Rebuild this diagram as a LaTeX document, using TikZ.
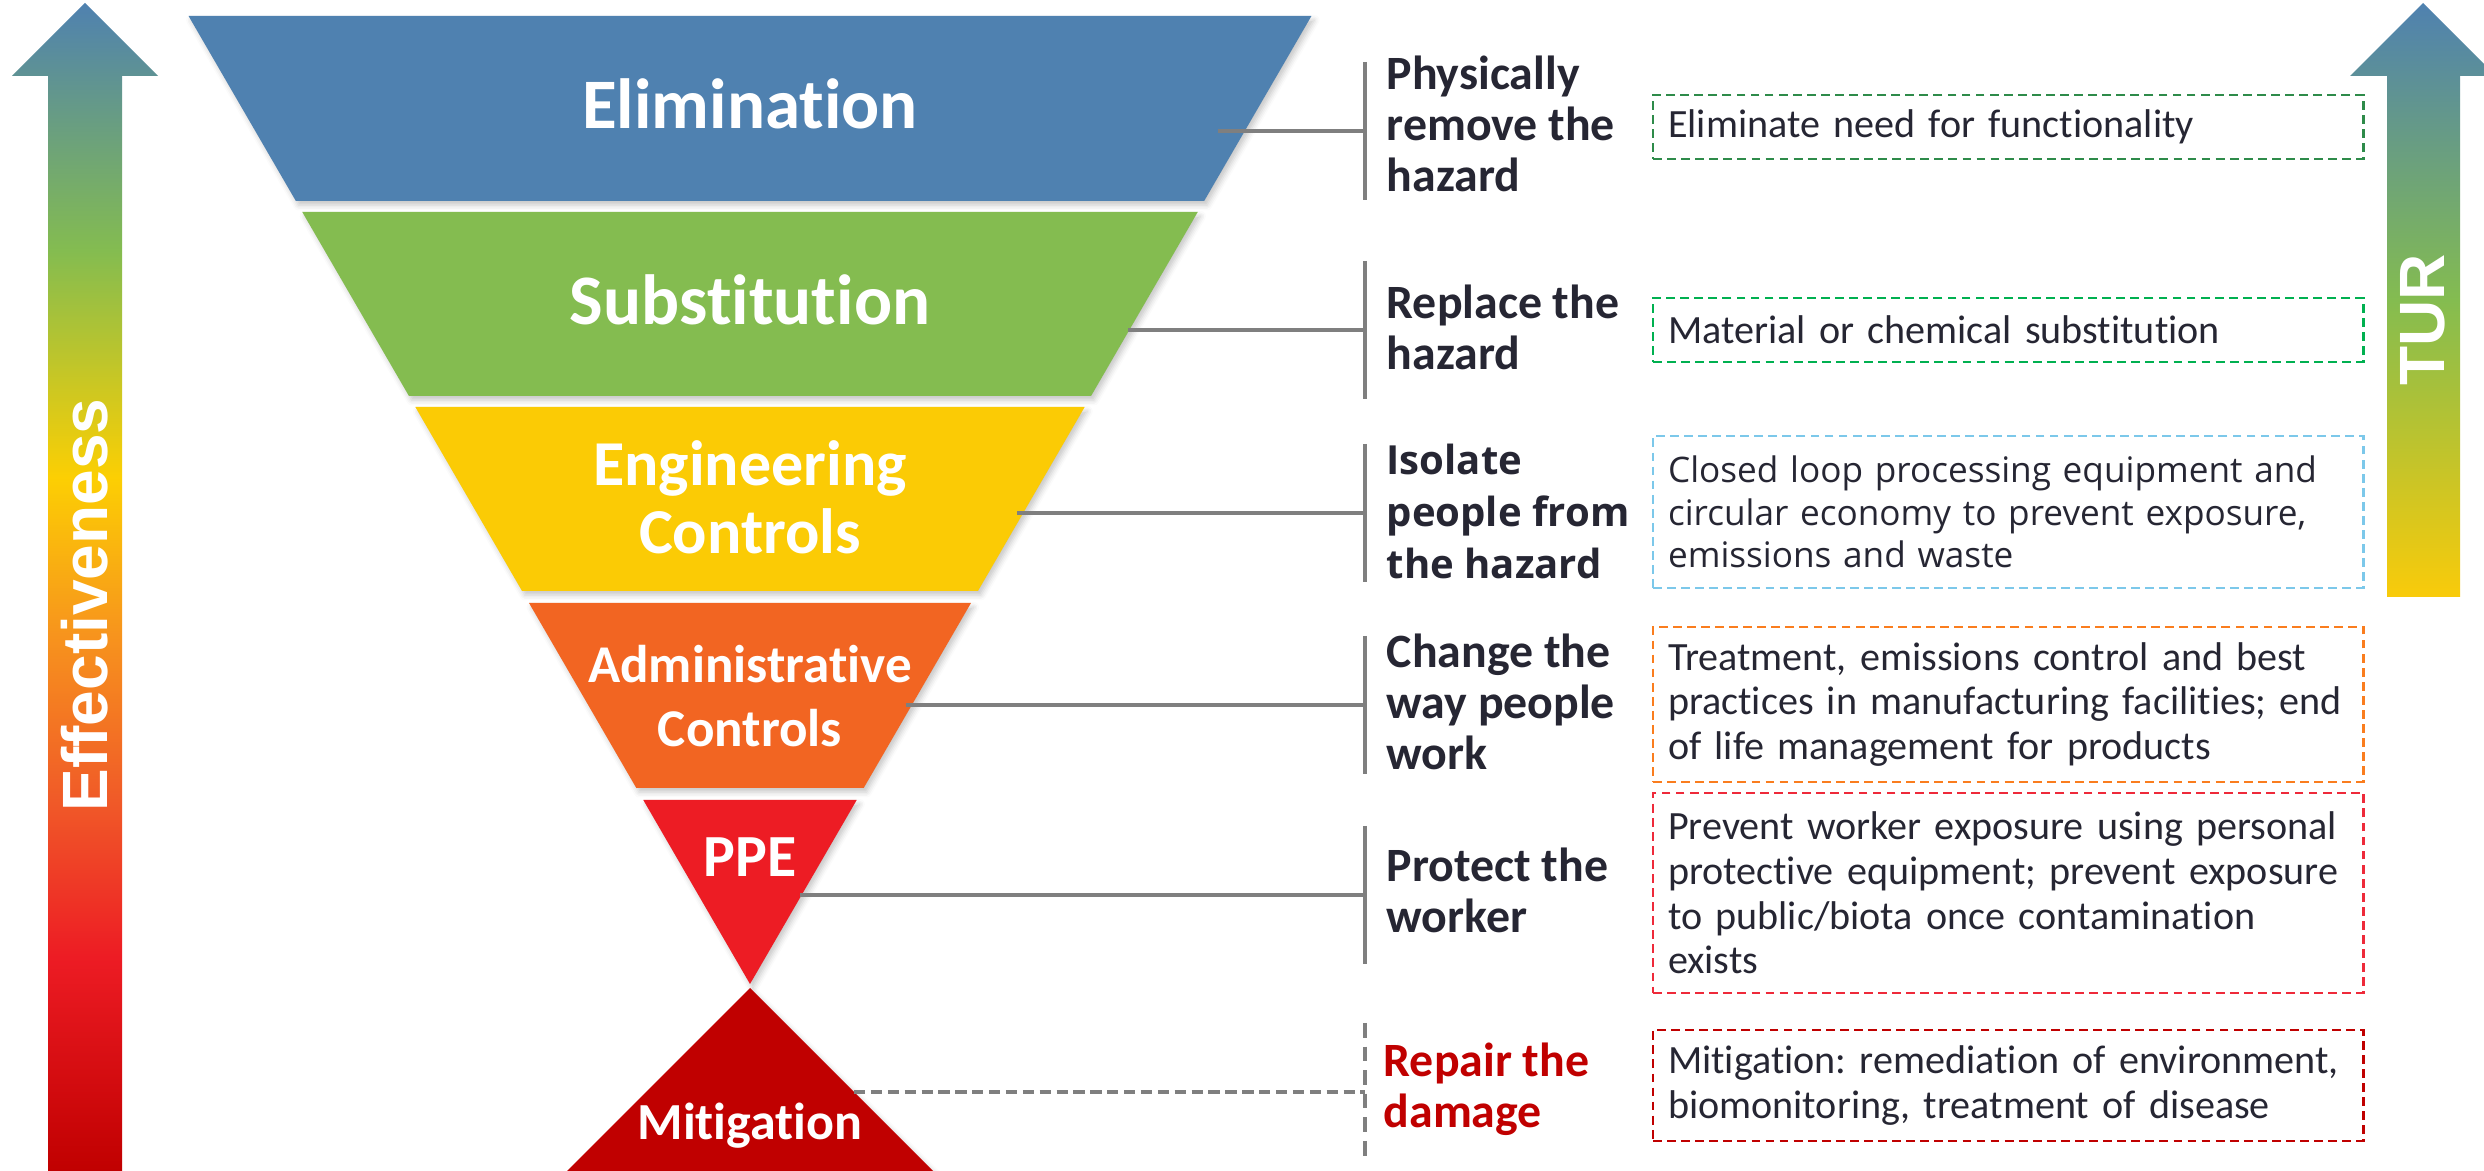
\documentclass[tikz,border=0pt]{standalone}
\usepackage{fontspec}
\setmainfont{Carlito}[Ligatures=NoCommon]
\newfontfamily\headfont{Liberation Sans}[Ligatures=NoCommon]
\newfontfamily\segoefont{Open Sans}[Ligatures=NoCommon]
\usetikzlibrary{shadows.blur}
\frenchspacing

\definecolor{elimblue}{HTML}{4F81B0}
\definecolor{subgreen}{HTML}{84BC50}
\definecolor{enggold}{HTML}{FBCB05}
\definecolor{adminorange}{HTML}{F26522}
\definecolor{ppered}{HTML}{ED1C24}
\definecolor{mitired}{HTML}{C00000}
\definecolor{effred}{HTML}{F05A28}
\definecolor{efforange}{HTML}{F7941D}
\definecolor{effyellow}{HTML}{FCCF03}
\definecolor{turyellow}{HTML}{F9CB0A}
\definecolor{linkgray}{HTML}{7F7F7F}
\definecolor{inkdark}{HTML}{262633}
\definecolor{elimdash}{HTML}{2E8B4A}
\definecolor{substdash}{HTML}{00B050}
\definecolor{engdash}{HTML}{7CC8EA}
\definecolor{admindash}{HTML}{FA7D1E}
\definecolor{ppedash}{HTML}{EE2A3A}

% shadings: the path box spans 25bp..75bp
\pgfdeclareverticalshading{effshade}{100bp}{color(0bp)=(mitired); color(25bp)=(mitired);
  color(34.2bp)=(ppered); color(40.9bp)=(effred); color(48bp)=(efforange);
  color(54.7bp)=(effyellow); color(64.4bp)=(subgreen); color(75bp)=(elimblue); color(100bp)=(elimblue)}
\pgfdeclareverticalshading{turshade}{100bp}{color(0bp)=(turyellow); color(25bp)=(turyellow);
  color(50bp)=(subgreen); color(75bp)=(elimblue); color(100bp)=(elimblue)}

\begin{document}
\begin{tikzpicture}[x=0.01cm, y=-0.01cm,
  band/.style={fill=#1, blur shadow={shadow xshift=0.8pt, shadow yshift=-1.2pt, shadow blur radius=1.5pt, shadow opacity=22}},
  bandlabel/.style={text=white, align=center, inner sep=0pt},
  link/.style={draw=linkgray, line width=1.15pt},
  bracket/.style={draw=linkgray, line width=1.4pt},
  hazardlabel/.style={anchor=north west, align=left, inner sep=0pt, text=inkdark,
    font=\bfseries\fontsize{13.6}{14.5}\selectfont},
  measure/.style={draw=#1, dash pattern=on 2.5pt off 1.5pt, line width=0.6pt, anchor=west,
    text width=6.8cm, inner xsep=0.15cm, inner ysep=0pt, align=left, text=inkdark,
    font=\fontsize{11.4}{12.7}\selectfont}]
  \useasboundingbox (0,0) rectangle (2484,1171);

  % side arrows
  \shade[shading=effshade] (48,1172) -- (48,76) -- (12,76) -- (85,3) -- (158,76) -- (122,76) -- (122,1172) -- cycle;
  \node[rotate=90, text=white, font=\headfont\bfseries\fontsize{18.2}{18.2}\selectfont] (eff) at (85,605) {Effectiveness};
  \shade[shading=turshade] (2387,597) -- (2387,76) -- (2350,76) -- (2423,3) -- (2496,76) -- (2460,76) -- (2460,597) -- cycle;
  \node[rotate=90, text=white, font=\headfont\bfseries\fontsize{18.2}{18.2}\selectfont] (tur) at (2423,320) {TUR};

  % funnel
  \foreach \ytop/\ybot/\col in {16/201/elimblue, 212/396/subgreen, 407/591/enggold, 603/788/adminorange, 800/984/ppered}
    \fill[band=\col] ({750-0.58*(984-\ytop)},\ytop) -- ({750+0.58*(984-\ytop)},\ytop)
      -- ({750+0.58*(984-\ybot)},\ybot) -- ({750-0.58*(984-\ybot)},\ybot) -- cycle;
  \fill[band=mitired] (750,988) -- (934,1172) -- (566,1172) -- cycle;

  \node[bandlabel, font=\bfseries\fontsize{20.2}{20.2}\selectfont] (elim) at (750,104) {Elimination};
  \node[bandlabel, font=\bfseries\fontsize{20.2}{20.2}\selectfont] (subst) at (750,300) {Substitution};
  \node[bandlabel, font=\bfseries\fontsize{18.2}{19.3}\selectfont] (eng) at (750,497) {Engineering\\Controls};
  \node[bandlabel, font=\bfseries\fontsize{15.1}{18.2}\selectfont] (admin) at (750,696) {Administrative\\Controls};
  \node[bandlabel, anchor=base, font=\bfseries\fontsize{17}{17}\selectfont] (ppe) at (750,877) {PPE};
  \node[bandlabel, anchor=base, font=\bfseries\fontsize{14.8}{14.8}\selectfont] (miti) at (750,1140) {Mitigation};

  % connectors
  \foreach \name/\y/\sx in {elim/131/1218, subst/330/1128, eng/513/1017, admin/705/906, ppe/895/800} {
    \coordinate (\name-out) at (\sx,\y);
    \coordinate (\name-bar) at (1365,\y);
    \draw[bracket] (1365,\y-69) -- (1365,\y+69);
    \draw[link] (\name-out) -- (\name-bar);
  }
  \coordinate (miti-out) at (854,1092);
  \coordinate (miti-bar) at (1365,1092);
  \draw[bracket, dash pattern=on 4.2pt off 2.5pt] (1365,1023) -- (1365,1161);
  \draw[link, dash pattern=on 3.2pt off 1.6pt] (miti-out) -- (miti-bar);

  % what each level does
  \node[hazardlabel] (elim-why) at (1386,55) {Physically\\remove the\\hazard};
  \node[hazardlabel] (subst-why) at (1386,284) {Replace the\\hazard};
  \node[hazardlabel, font=\segoefont\bfseries\fontsize{11.4}{14.8}\selectfont] (eng-why) at (1386,443) {Isolate\\people from\\the hazard};
  \node[hazardlabel] (admin-why) at (1386,633) {Change the\\way people\\work};
  \node[hazardlabel] (ppe-why) at (1386,847) {Protect the\\worker};
  \node[hazardlabel, text=mitired] (miti-why) at (1383,1042) {Repair the\\damage};

  % examples
  \node[measure=elimdash, minimum height=0.64cm] (elim-how) at (1652,127) {Eliminate need for functionality};
  \node[measure=substdash, minimum height=0.64cm] (subst-how) at (1652,330) {Material or chemical substitution};
  \node[measure=engdash, minimum height=1.52cm, font=\segoefont\fontsize{10}{12}\selectfont] (eng-how) at (1652,512)
    {Closed loop processing equipment and\\circular economy to prevent exposure,\\emissions and waste};
  \node[measure=admindash, minimum height=1.55cm] (admin-how) at (1652,704.5)
    {Treatment, emissions control and best\\practices in manufacturing facilities; end\\of life management for products};
  \node[measure=ppedash, minimum height=2cm] (ppe-how) at (1652,893)
    {Prevent worker exposure using personal\\protective equipment; prevent exposure\\to public/biota once contamination\\exists};
  \node[measure=mitired, minimum height=1.11cm] (miti-how) at (1652,1085.5)
    {Mitigation: remediation of environment,\\biomonitoring, treatment of disease};
\end{tikzpicture}
\end{document}
